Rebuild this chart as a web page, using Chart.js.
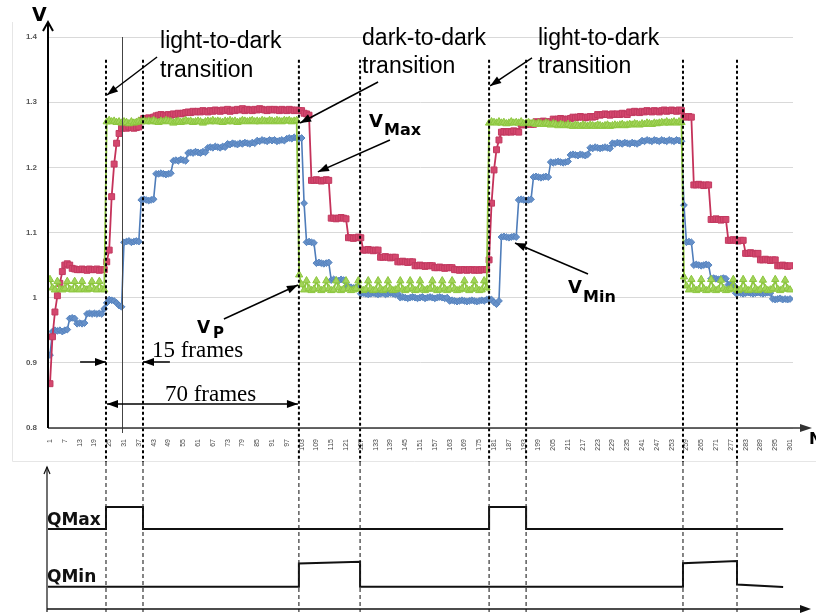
<!DOCTYPE html>
<html>
<head>
<meta charset="utf-8">
<script src="https://cdn.jsdelivr.net/npm/chart.js@4.4.0/dist/chart.umd.min.js"></script>
<style>
  body { margin: 0; background: #fff; }
  #wrap { position: relative; width: 816px; height: 615px; overflow: hidden; background: #fff; }
  canvas { position: absolute; left: 0; }
  #top { top: 0; }
  #bottom { top: 462px; }
</style>
</head>
<body>
<div id="wrap">
  <canvas id="top" width="816" height="462"></canvas>
  <canvas id="bottom" width="816" height="153"></canvas>
</div>
<script>
// --- data (frame index 1..301) ---
const tickFrames = [1, 7, 13, 19, 25, 31, 37, 43, 49, 55, 61, 67, 73, 79, 85, 91, 97, 103, 109, 115,
  121, 127, 133, 139, 145, 151, 157, 163, 169, 175, 181, 187, 193, 199, 205, 211, 217, 223, 229, 235,
  241, 247, 253, 259, 265, 271, 277, 283, 289, 295, 301];
const yTicks = [0.8, 0.9, 1.0, 1.1, 1.2, 1.3, 1.4];

// V_Max (red squares)
const vMax = [
  0.868, 0.94, 0.978, 1.003, 1.022, 1.04, 1.05, 1.052, 1.05, 1.045,
  1.044, 1.043, 1.043, 1.044, 1.043, 1.042, 1.044, 1.043, 1.043, 1.044,
  1.042, 1.043, 1.043, 1.055, 1.073, 1.155, 1.205, 1.237, 1.252, 1.26,
  1.261, 1.26, 1.262, 1.261, 1.26, 1.261, 1.262, 1.272, 1.275, 1.274,
  1.276, 1.275, 1.277, 1.279, 1.28, 1.281, 1.28, 1.279, 1.281, 1.28,
  1.282, 1.281, 1.283, 1.282, 1.283, 1.284, 1.285, 1.284, 1.286, 1.285,
  1.286, 1.285, 1.287, 1.286, 1.285, 1.287, 1.286, 1.288, 1.287, 1.286,
  1.288, 1.287, 1.289, 1.286, 1.288, 1.287, 1.289, 1.288, 1.29, 1.287,
  1.289, 1.288, 1.287, 1.289, 1.288, 1.29, 1.289, 1.288, 1.287, 1.289,
  1.288, 1.289, 1.288, 1.287, 1.289, 1.288, 1.287, 1.289, 1.288, 1.287,
  1.288, 1.287, 1.287, 1.283, 1.282, 1.28, 1.18, 1.18, 1.181, 1.18,
  1.179, 1.18, 1.181, 1.18, 1.122, 1.122, 1.121, 1.122, 1.123, 1.122,
  1.121, 1.092, 1.092, 1.091, 1.092, 1.093, 1.092, 1.073, 1.073, 1.074,
  1.073, 1.072, 1.073, 1.073, 1.062, 1.062, 1.063, 1.062, 1.061, 1.062,
  1.062, 1.055, 1.055, 1.056, 1.055, 1.054, 1.055, 1.055, 1.049, 1.049,
  1.05, 1.049, 1.048, 1.049, 1.049, 1.049, 1.046, 1.046, 1.047, 1.046,
  1.045, 1.046, 1.046, 1.046, 1.043, 1.043, 1.042, 1.043, 1.043, 1.042,
  1.043, 1.043, 1.042, 1.043, 1.042, 1.043, 1.043, 1.043, 1.058, 1.145,
  1.196, 1.227, 1.242, 1.254, 1.255, 1.254, 1.255, 1.254, 1.256, 1.255,
  1.254, 1.266, 1.265, 1.266, 1.267, 1.266, 1.266, 1.27, 1.269, 1.27,
  1.271, 1.27, 1.269, 1.27, 1.274, 1.273, 1.274, 1.275, 1.274, 1.273,
  1.274, 1.275, 1.277, 1.276, 1.277, 1.278, 1.277, 1.276, 1.277, 1.278,
  1.277, 1.278, 1.281, 1.28, 1.281, 1.282, 1.281, 1.28, 1.282, 1.281,
  1.282, 1.281, 1.283, 1.282, 1.281, 1.285, 1.284, 1.286, 1.285, 1.284,
  1.286, 1.285, 1.287, 1.286, 1.285, 1.287, 1.286, 1.285, 1.287, 1.288,
  1.286, 1.287, 1.288, 1.287, 1.286, 1.288, 1.287, 1.278, 1.277, 1.278,
  1.277, 1.173, 1.173, 1.174, 1.173, 1.172, 1.173, 1.173, 1.12, 1.12,
  1.121, 1.12, 1.119, 1.12, 1.12, 1.088, 1.088, 1.089, 1.088, 1.087,
  1.088, 1.088, 1.068, 1.068, 1.069, 1.068, 1.067, 1.068, 1.058, 1.058,
  1.059, 1.058, 1.057, 1.058, 1.058, 1.049, 1.049, 1.05, 1.049, 1.048,
  1.049
];

// V_P (green triangles)
const vP = [
  1.028, 1.015, 1.012, 1.025, 1.013, 1.012, 1.014, 1.025, 1.013, 1.012,
  1.025, 1.013, 1.012, 1.025, 1.013, 1.012, 1.014, 1.025, 1.013, 1.012,
  1.025, 1.013, 1.012, 1.27, 1.272, 1.27, 1.271, 1.269, 1.27, 1.268,
  1.27, 1.269, 1.267, 1.27, 1.268, 1.269, 1.271, 1.27, 1.272, 1.27,
  1.271, 1.27, 1.272, 1.27, 1.269, 1.271, 1.27, 1.272, 1.271, 1.27,
  1.268, 1.27, 1.271, 1.269, 1.27, 1.272, 1.27, 1.271, 1.269, 1.27,
  1.271, 1.27, 1.268, 1.27, 1.271, 1.27, 1.272, 1.27, 1.271, 1.27,
  1.269, 1.271, 1.27, 1.272, 1.27, 1.271, 1.269, 1.27, 1.272, 1.271,
  1.27, 1.271, 1.272, 1.27, 1.271, 1.27, 1.272, 1.271, 1.27, 1.272,
  1.271, 1.27, 1.272, 1.271, 1.27, 1.272, 1.271, 1.272, 1.27, 1.271,
  1.272, 1.035, 1.02, 1.012, 1.026, 1.014, 1.011, 1.013, 1.026, 1.014,
  1.011, 1.013, 1.026, 1.014, 1.011, 1.012, 1.026, 1.015, 1.011, 1.013,
  1.026, 1.014, 1.011, 1.012, 1.014, 1.026, 1.013, 1.011, 1.013, 1.026,
  1.014, 1.011, 1.012, 1.026, 1.014, 1.011, 1.013, 1.026, 1.014, 1.011,
  1.012, 1.014, 1.026, 1.013, 1.011, 1.013, 1.026, 1.014, 1.011, 1.012,
  1.026, 1.014, 1.011, 1.013, 1.014, 1.026, 1.013, 1.011, 1.012, 1.026,
  1.014, 1.011, 1.013, 1.026, 1.014, 1.011, 1.012, 1.014, 1.026, 1.013,
  1.011, 1.013, 1.026, 1.014, 1.011, 1.012, 1.026, 1.015, 1.268, 1.27,
  1.269, 1.268, 1.27, 1.268, 1.269, 1.267, 1.268, 1.27, 1.268, 1.269,
  1.268, 1.27, 1.267, 1.268, 1.269, 1.267, 1.268, 1.266, 1.268, 1.267,
  1.266, 1.268, 1.267, 1.265, 1.267, 1.266, 1.264, 1.266, 1.265, 1.264,
  1.266, 1.264, 1.263, 1.265, 1.264, 1.263, 1.265, 1.264, 1.263, 1.265,
  1.264, 1.263, 1.265, 1.264, 1.263, 1.264, 1.265, 1.263, 1.264, 1.265,
  1.264, 1.265, 1.266, 1.264, 1.265, 1.266, 1.265, 1.267, 1.266, 1.265,
  1.267, 1.266, 1.268, 1.267, 1.266, 1.268, 1.267, 1.268, 1.269, 1.268,
  1.27, 1.268, 1.269, 1.27, 1.268, 1.27, 1.269, 1.032, 1.018, 1.012,
  1.028, 1.014, 1.011, 1.013, 1.028, 1.014, 1.011, 1.012, 1.028, 1.014,
  1.011, 1.013, 1.027, 1.014, 1.011, 1.012, 1.014, 1.028, 1.013, 1.011,
  1.013, 1.028, 1.014, 1.011, 1.012, 1.028, 1.014, 1.011, 1.013, 1.027,
  1.014, 1.011, 1.012, 1.014, 1.028, 1.013, 1.011, 1.013, 1.027, 1.014,
  1.012
];

// V_Min (blue diamonds)
const vMin = [
  0.912, 0.948, 0.95, 0.949, 0.95, 0.948, 0.95, 0.951, 0.968, 0.969,
  0.968, 0.96, 0.961, 0.96, 0.961, 0.975, 0.976, 0.975, 0.976, 0.975,
  0.976, 0.975, 0.983, 0.992, 0.997, 0.996, 0.995, 0.992, 0.988, 0.986,
  1.085, 1.086, 1.087, 1.085, 1.086, 1.087, 1.086, 1.15, 1.151, 1.15,
  1.149, 1.15, 1.151, 1.19, 1.19, 1.191, 1.19, 1.189, 1.19, 1.191,
  1.21, 1.211, 1.21, 1.212, 1.211, 1.21, 1.222, 1.223, 1.222, 1.224,
  1.223, 1.222, 1.224, 1.223, 1.23, 1.231, 1.23, 1.232, 1.231, 1.23,
  1.232, 1.231, 1.236, 1.235, 1.237, 1.236, 1.235, 1.237, 1.236, 1.238,
  1.237, 1.236, 1.238, 1.237, 1.241, 1.24, 1.242, 1.241, 1.24, 1.242,
  1.241, 1.242, 1.24, 1.241, 1.242, 1.241, 1.244, 1.245, 1.244, 1.246,
  1.245, 1.244, 1.245, 1.145, 1.085, 1.086, 1.085, 1.084, 1.053, 1.054,
  1.053, 1.052, 1.053, 1.054, 1.027, 1.028, 1.027, 1.026, 1.028, 1.027,
  1.016, 1.017, 1.016, 1.015, 1.016, 1.017, 1.006, 1.007, 1.006, 1.005,
  1.006, 1.007, 1.006, 1.005, 1.006, 1.007, 1.005, 1.006, 1.007, 1.006,
  1.005, 1.006, 1.0, 1.001, 1.0, 0.999, 1.0, 1.001, 1.0, 0.999,
  1.0, 1.001, 0.999, 1.0, 1.001, 1.0, 0.999, 1.0, 1.001, 1.0,
  0.999, 1.0, 0.995, 0.996, 0.995, 0.994, 0.995, 0.996, 0.995, 0.994,
  0.995, 0.996, 0.995, 0.994, 0.995, 0.996, 0.995, 0.997, 0.998, 0.997,
  0.993, 0.99, 0.995, 1.093, 1.094, 1.093, 1.092, 1.093, 1.094, 1.093,
  1.15, 1.151, 1.15, 1.149, 1.15, 1.151, 1.185, 1.186, 1.185, 1.184,
  1.185, 1.186, 1.185, 1.208, 1.207, 1.208, 1.209, 1.208, 1.207, 1.208,
  1.209, 1.219, 1.22, 1.219, 1.218, 1.22, 1.219, 1.218, 1.22, 1.23,
  1.229, 1.231, 1.23, 1.229, 1.23, 1.231, 1.23, 1.229, 1.237, 1.236,
  1.238, 1.237, 1.236, 1.238, 1.237, 1.236, 1.238, 1.237, 1.236, 1.238,
  1.241, 1.24, 1.242, 1.241, 1.24, 1.242, 1.241, 1.24, 1.242, 1.241,
  1.24, 1.242, 1.241, 1.24, 1.242, 1.241, 1.24, 1.142, 1.085, 1.086,
  1.085, 1.05, 1.051, 1.05, 1.049, 1.05, 1.051, 1.05, 1.029, 1.03,
  1.029, 1.028, 1.029, 1.03, 1.029, 1.02, 1.021, 1.02, 1.007, 1.008,
  1.007, 1.006, 1.007, 1.008, 1.007, 1.006, 1.007, 1.008, 1.007, 1.006,
  1.007, 1.008, 1.007, 0.998, 0.997, 0.998, 0.999, 0.997, 0.998, 0.997,
  0.998
];

// transition frames (dashed lines) and the thin solid marker
const transitionFrames = [23.7, 38.7, 101.9, 126.7, 179, 194, 257.6, 279.5];
const markerFrame = 30.2;

// lower panel: quantiser states
const qMaxFrames = [0.2, 23.7, 23.7, 38.7, 38.7, 179, 179, 194, 194, 298.2];
const qMaxLevels = [3.48, 3.48, 4.43, 4.43, 3.48, 3.48, 4.43, 4.43, 3.48, 3.48];
const qMinFrames = [0.2, 101.9, 101.9, 126.7, 126.7, 257.6, 257.6, 279.5, 279.5, 298.2];
const qMinLevels = [0.97, 0.97, 1.98, 2.05, 0.97, 0.97, 1.99, 2.09, 1.06, 0.96];

// --- helpers ---
const X_MIN = 0.19, X_MAX = 302.2;
const pts = arr => arr.map((v, i) => ({ x: i + 1, y: v }));
const zip = (xs, ys) => xs.map((x, i) => ({ x: x, y: ys[i] }));

function head(ctx, x1, y1, x2, y2, len, half) {
  const a = Math.atan2(y2 - y1, x2 - x1);
  const c = Math.cos(a), s = Math.sin(a);
  ctx.beginPath();
  ctx.moveTo(x2, y2);
  ctx.lineTo(x2 - len * c + half * s, y2 - len * s - half * c);
  ctx.lineTo(x2 - len * c - half * s, y2 - len * s + half * c);
  ctx.closePath();
  ctx.fill();
}

function arrow(ctx, p, q, both) {
  ctx.lineWidth = 1.5;
  ctx.beginPath();
  ctx.moveTo(p[0], p[1]);
  ctx.lineTo(q[0], q[1]);
  ctx.stroke();
  head(ctx, p[0], p[1], q[0], q[1], 11, 4);
  if (both) head(ctx, q[0], q[1], p[0], p[1], 11, 4);
}

function subLabel(ctx, main, sub, pm, ps, mainSize, subSize) {
  ctx.font = 'bold ' + mainSize + 'px "DejaVu Sans"';
  ctx.fillText(main, pm[0], pm[1]);
  ctx.font = 'bold ' + subSize + 'px "DejaVu Sans"';
  ctx.fillText(sub, ps[0], ps[1]);
}

// --- top panel decorations: axes, transition lines, labels, arrows ---
const topDecor = {
  id: 'topDecor',
  afterDraw(chart) {
    const { ctx, chartArea: a, scales: { x, y } } = chart;
    const P = (f, v) => [x.getPixelForValue(f), y.getPixelForValue(v)];
    ctx.save();

    // faint frame of the pasted spreadsheet chart
    ctx.strokeStyle = '#e6e6e6';
    ctx.lineWidth = 1;
    ctx.beginPath();
    ctx.moveTo(12.5, 22); ctx.lineTo(12.5, 461.5); ctx.lineTo(816, 461.5);
    ctx.stroke();

    // thin solid marker line
    ctx.strokeStyle = '#444';
    ctx.lineWidth = 1;
    const mx = Math.round(x.getPixelForValue(markerFrame)) + 0.5;
    ctx.beginPath(); ctx.moveTo(mx, a.top); ctx.lineTo(mx, a.bottom + 5); ctx.stroke();

    // dashed transition lines
    ctx.strokeStyle = '#000';
    ctx.lineWidth = 2;
    ctx.setLineDash([3, 2.5]);
    const yTop = y.getPixelForValue(1.365);
    transitionFrames.forEach(f => {
      const px = x.getPixelForValue(f);
      ctx.beginPath(); ctx.moveTo(px, yTop); ctx.lineTo(px, chart.height); ctx.stroke();
    });
    ctx.setLineDash([]);

    // x axis with arrow
    ctx.strokeStyle = '#333';
    ctx.fillStyle = '#333';
    ctx.lineWidth = 1.5;
    ctx.beginPath(); ctx.moveTo(a.left, a.bottom); ctx.lineTo(806, a.bottom); ctx.stroke();
    head(ctx, a.left, a.bottom, 812, a.bottom, 12, 4);

    // y axis with arrow
    ctx.strokeStyle = '#000';
    ctx.fillStyle = '#000';
    ctx.lineWidth = 2;
    ctx.beginPath(); ctx.moveTo(a.left, a.bottom); ctx.lineTo(a.left, 22); ctx.stroke();
    ctx.beginPath();
    ctx.moveTo(a.left - 5, 31); ctx.lineTo(a.left, 22); ctx.lineTo(a.left + 5, 31);
    ctx.stroke();

    // axis letters
    ctx.fillStyle = '#000';
    ctx.textBaseline = 'alphabetic';
    ctx.font = 'bold 19px "DejaVu Sans"';
    ctx.fillText('V', 32, 21);
    ctx.font = 'bold 16px "DejaVu Sans"';
    ctx.fillText('N', 809, 444);

    // transition captions
    ctx.font = '23px "Liberation Sans"';
    ctx.fillText('light-to-dark', P(45.6, 0)[0], P(0, 1.383)[1]);
    ctx.fillText('transition', P(45.6, 0)[0], P(0, 1.3386)[1]);
    ctx.fillText('dark-to-dark', P(127.5, 0)[0], P(0, 1.3877)[1]);
    ctx.fillText('transition', P(127.5, 0)[0], P(0, 1.3448)[1]);
    ctx.fillText('light-to-dark', P(198.8, 0)[0], P(0, 1.3877)[1]);
    ctx.fillText('transition', P(198.8, 0)[0], P(0, 1.3448)[1]);

    // arrows to the transitions
    arrow(ctx, P(44.4, 1.3693), P(24.1, 1.311));
    arrow(ctx, P(134.0, 1.331), P(102.4, 1.268));
    arrow(ctx, P(196.4, 1.368), P(179.4, 1.325));

    // series labels
    subLabel(ctx, 'V', 'Max', P(130.3, 1.2619), P(136.4, 1.2496), 18, 16);
    arrow(ctx, P(138.8, 1.242), P(109.6, 1.193));
    subLabel(ctx, 'V', 'Min', P(211.0, 1.0072), P(217.1, 0.9934), 18, 16);
    arrow(ctx, P(219.1, 1.0363), P(189.5, 1.0839));
    subLabel(ctx, 'V', 'P', P(60.6, 0.9458), P(67.1, 0.9381), 17, 15);
    arrow(ctx, P(71.5, 0.9673), P(101.5, 1.0195));

    // frame-count annotations
    ctx.font = '23px "Liberation Serif"';
    ctx.fillText('15 frames', P(42.3, 0)[0], P(0, 0.909)[1]);
    ctx.fillText('70 frames', P(47.6, 0)[0], P(0, 0.8415)[1]);
    arrow(ctx, P(13.2, 0.9013), P(23.7, 0.9013));
    arrow(ctx, P(49.6, 0.9013), P(38.7, 0.9013));
    arrow(ctx, P(24.1, 0.8369), P(101.5, 0.8369), true);

    ctx.restore();
  }
};

new Chart(document.getElementById('top'), {
  type: 'line',
  data: {
    datasets: [
      {
        label: 'VP', data: pts(vP), order: 0,
        borderColor: '#8fc641', backgroundColor: '#a2d35a', pointBorderColor: '#8cc63e',
        pointStyle: 'triangle', pointRadius: 4.2, pointBorderWidth: 1, borderWidth: 1.8
      },
      {
        label: 'VMax', data: pts(vMax), order: 1,
        borderColor: '#c5325a', backgroundColor: '#d4476e', pointBorderColor: '#c23a60',
        pointStyle: 'rect', pointRadius: 4.2, pointBorderWidth: 1, borderWidth: 1.8
      },
      {
        label: 'VMin', data: pts(vMin), order: 2,
        borderColor: '#4f7dba', backgroundColor: '#6690c8', pointBorderColor: '#5583bf',
        pointStyle: 'rectRot', pointRadius: 3.4, pointBorderWidth: 1, borderWidth: 1.6
      }
    ]
  },
  options: {
    responsive: false,
    animation: false,
    devicePixelRatio: 1,
    events: [],
    layout: { padding: { top: 37, right: 23, left: 0, bottom: 0 } },
    plugins: { legend: { display: false }, tooltip: { enabled: false } },
    scales: {
      x: {
        type: 'linear', min: X_MIN, max: X_MAX,
        afterBuildTicks: s => { s.ticks = tickFrames.map(v => ({ value: v })); },
        afterFit: s => { s.height = 34; },
        ticks: {
          autoSkip: false, minRotation: 90, maxRotation: 90, padding: 3,
          font: { size: 7, family: 'Liberation Sans' }, color: '#444',
          callback: v => String(v)
        },
        grid: { display: false },
        border: { display: false }
      },
      y: {
        min: 0.8, max: 1.4,
        afterBuildTicks: s => { s.ticks = yTicks.map(v => ({ value: v })); },
        afterFit: s => { s.width = 48; },
        ticks: {
          padding: 11, font: { size: 8, family: 'Liberation Sans', weight: 'bold' }, color: '#555',
          callback: v => String(+v.toFixed(1))
        },
        grid: { color: '#d9d9d9', drawTicks: false },
        border: { display: false }
      }
    }
  },
  plugins: [topDecor]
});

// --- lower panel decorations ---
const bottomDecor = {
  id: 'bottomDecor',
  afterDraw(chart) {
    const { ctx, chartArea: a, scales: { x, y } } = chart;
    ctx.save();

    ctx.strokeStyle = '#222';
    ctx.lineWidth = 1.1;
    ctx.setLineDash([4, 3]);
    transitionFrames.forEach(f => {
      const px = x.getPixelForValue(f);
      ctx.beginPath(); ctx.moveTo(px, 0); ctx.lineTo(px, a.bottom + 3); ctx.stroke();
    });
    ctx.setLineDash([]);

    // axes
    ctx.strokeStyle = '#111';
    ctx.fillStyle = '#111';
    ctx.lineWidth = 1.2;
    ctx.beginPath(); ctx.moveTo(a.left - 1, a.bottom + 3); ctx.lineTo(a.left - 1, a.top); ctx.stroke();
    ctx.beginPath();
    ctx.moveTo(a.left - 4, a.top + 7); ctx.lineTo(a.left - 1, a.top); ctx.lineTo(a.left + 2, a.top + 7);
    ctx.stroke();
    ctx.lineWidth = 1.5;
    ctx.beginPath(); ctx.moveTo(a.left - 1, a.bottom); ctx.lineTo(804, a.bottom); ctx.stroke();
    head(ctx, a.left, a.bottom, 811, a.bottom, 11, 4);

    // state labels
    ctx.font = 'bold 17px "DejaVu Sans"';
    ctx.fillText('QMax', a.left - 1, y.getPixelForValue(3.65));
    ctx.fillText('QMin', a.left - 1, y.getPixelForValue(1.17));

    ctx.restore();
  }
};

new Chart(document.getElementById('bottom'), {
  type: 'line',
  data: {
    datasets: [
      { label: 'QMax', data: zip(qMaxFrames, qMaxLevels), borderColor: '#111', borderWidth: 2, pointRadius: 0, borderJoinStyle: 'miter' },
      { label: 'QMin', data: zip(qMinFrames, qMinLevels), borderColor: '#111', borderWidth: 2, pointRadius: 0, borderJoinStyle: 'miter' }
    ]
  },
  options: {
    responsive: false,
    animation: false,
    devicePixelRatio: 1,
    events: [],
    layout: { padding: { top: 5, right: 23, left: 48, bottom: 6 } },
    plugins: { legend: { display: false }, tooltip: { enabled: false } },
    scales: {
      x: { type: 'linear', display: false, min: X_MIN, max: X_MAX },
      y: { display: false, min: 0, max: 6.174 }
    }
  },
  plugins: [bottomDecor]
});
</script>
</body>
</html>
